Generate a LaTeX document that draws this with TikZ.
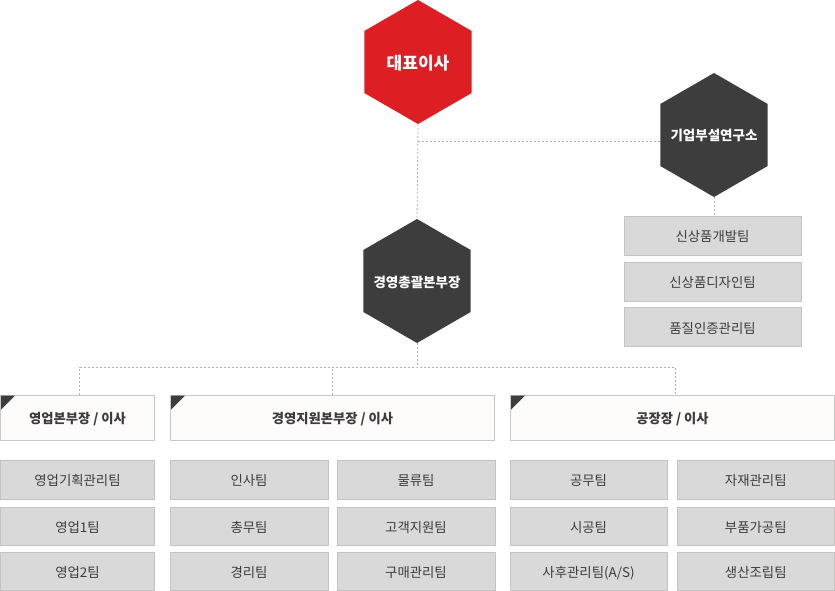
\documentclass[tikz,border=0pt]{standalone}
\usepackage{fontspec}
\setmainfont{Noto Sans CJK KR}
\usetikzlibrary{shapes.geometric}
\definecolor{hred}{HTML}{DD1E22}
\definecolor{hdark}{HTML}{3D3D3D}
\definecolor{boxfill}{HTML}{D9D9D9}
\definecolor{boxline}{HTML}{C6C2C2}
\definecolor{txt}{HTML}{3C3C3C}
\definecolor{headfill}{HTML}{FEFBFB}
\definecolor{headline}{HTML}{C8C8C8}
\definecolor{dotline}{HTML}{B0B0B0}
\newcommand{\hexlabel}[1]{\makebox[0pt]{#1}}
\begin{document}
\begin{tikzpicture}[x=1pt,y=-1pt,
  hexa/.style={regular polygon, regular polygon sides=6, shape border rotate=90,
    minimum size=124pt, inner sep=0pt, outer sep=0pt, text=white,
    text height=12.5pt, text depth=0.5pt,
    font=\fontsize{13.5}{15}\selectfont\bfseries},
  teambox/.style={draw=boxline, fill=boxfill, line width=1pt, text=txt,
    inner sep=0pt, outer sep=0pt, text height=12.5pt, text depth=0.5pt,
    font=\fontsize{13.4}{15}\selectfont},
  headbox/.style={draw=headline, fill=headfill, line width=1pt, text=txt,
    inner sep=0pt, outer sep=0pt, minimum height=45pt, text height=12.5pt, text depth=0.5pt,
    font=\fontsize{13.3}{15}\selectfont\bfseries},
  conn/.style={draw=dotline, line width=0.8pt, dash pattern=on 2pt off 2pt},
  corner/.style={fill=hdark}
]
\useasboundingbox (0,0) rectangle (835,591);

% hexagons
\node[hexa, fill=hred, text height=15pt, text depth=0.5pt, font=\fontsize{17}{19}\selectfont\bfseries] (ceo) at (418,62) {\hexlabel{대표이사}};
\node[hexa, fill=hdark] (lab) at (714,135) {\hexlabel{기업부설연구소}};
\node[hexa, fill=hdark] (gm) at (417,281) {\hexlabel{경영총괄본부장}};

% lab teams
\node[teambox, minimum width=177pt, minimum height=39pt] (r1) at (712.5,235.5) {신상품개발팀};
\node[teambox, minimum width=177pt, minimum height=39pt] (r2) at (712.5,281.5) {신상품디자인팀};
\node[teambox, minimum width=177pt, minimum height=39pt] (r3) at (712.5,327) {품질인증관리팀};

% headers
\node[headbox, minimum width=154pt] (h1) at (77.5,417.5) {영업본부장 / 이사};
\node[headbox, minimum width=324pt] (h2) at (332.5,417.5) {경영지원본부장 / 이사};
\node[headbox, minimum width=324pt] (h3) at (672.5,417.5) {공장장 / 이사};
\foreach \h in {h1,h2,h3}{
  \fill[corner] ([shift={(0.5,0.5)}]\h.north west) -- ++(14,0) -- ++(-14,14) -- cycle;
}

% team boxes
\foreach \name/\x/\w/\a/\b/\c in {
  c1/77.5/154/영업기획관리팀/영업1팀/영업2팀,
  c2/249/158/인사팀/총무팀/경리팀,
  c3/416/158/물류팀/고객지원팀/구매관리팀,
  c4/588.5/157/공무팀/시공팀/{사후관리팀(A/S)},
  c5/755.75/157.5/자재관리팀/부품가공팀/생산조립팀}{
  \node[teambox, minimum width=\w pt, minimum height=39pt] (\name a) at (\x,479.5) {\a};
  \node[teambox, minimum width=\w pt, minimum height=38pt] (\name b) at (\x,526) {\b};
  \node[teambox, minimum width=\w pt, minimum height=38pt] (\name c) at (\x,571) {\c};
}

% connectors
\coordinate (jt) at (418,141);
\coordinate (jb) at (417,367);
\draw[conn] (ceo.south) -- (gm.north);
\draw[conn] (jt) -- (jt -| lab.west);
\draw[conn] (lab.south) -- (lab.south |- r1.north);
\draw[conn] (gm.south) -- (jb);
\draw[conn] ([xshift=2pt]h1.north) |- (jb) -| ([xshift=2.5pt]h3.north);
\draw[conn] (h2.north) -- (h2.north |- jb);
\end{tikzpicture}
\end{document}
